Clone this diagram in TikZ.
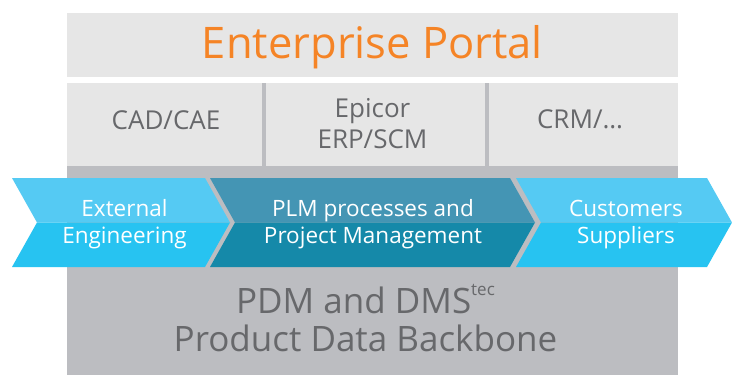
\documentclass[tikz,border=0pt]{standalone}
\usepackage{fontspec}
\setmainfont{Open Sans}
\definecolor{portalorange}{HTML}{F58426}
\definecolor{cellgray}{HTML}{E6E6E6}
\definecolor{basegray}{HTML}{BCBDC1}
\definecolor{labelgray}{HTML}{67686B}
\definecolor{skytop}{HTML}{55CAF3}
\definecolor{skybottom}{HTML}{27C3F1}
\definecolor{tealtop}{HTML}{4495B4}
\definecolor{tealbottom}{HTML}{1589A9}
\tikzset{
  cell/.style={fill=cellgray, draw=none},
  cellText/.style={text=labelgray, font=\fontsize{26}{31}\selectfont, align=center, inner sep=0pt},
  arrowText/.style={text=white, font=\fontsize{22.5}{27}\selectfont, align=center, inner sep=0pt},
  baseText/.style={text=labelgray, font=\fontsize{35}{38}\selectfont, align=center, inner sep=0pt},
}
\begin{document}
\begin{tikzpicture}[x=1pt, y=-1pt]
  \useasboundingbox (0,0) rectangle (732,375);
  \fill[white] (0,0) rectangle (732,375);

  % portal bar and application row
  \fill[cell] (67,13) rectangle (678,77);
  \fill[basegray] (67,83) rectangle (678,375);
  \fill[cell] (67,83) rectangle (261.5,166);
  \fill[cell] (266,83) rectangle (485,166);
  \fill[cell] (489,83) rectangle (678,166);

  \node[text=portalorange, font=\fontsize{43.5}{46}\selectfont, anchor=base, inner sep=0pt] (portal) at (372.5,58) {Enterprise Portal};
  \node[cellText, anchor=base] (cad) at (166,129) {CAD/CAE};
  % for two-line labels the base anchor sits on the last line
  \node[cellText, anchor=base] (erp) at (372.5,148) {Epicor\\ERP/SCM};
  \node[cellText, anchor=base] (crm) at (580,128) {CRM/\ldots};

  % process chevrons, two-tone
  \foreach \l/\r/\top/\bot in {12/205/skytop/skybottom, 210/510/tealtop/tealbottom, 516/707/skytop/skybottom}{
    \fill[\top] (\l,178) -- (\r,178) -- (\r+25,222.5) -- (\l+25,222.5) -- cycle;
    \fill[\bot] (\l+25,222.5) -- (\r+25,222.5) -- (\r,267) -- (\l,267) -- cycle;
  }
  \node[arrowText, anchor=base] (ext) at (124.5,243) {External\\Engineering};
  \node[arrowText, anchor=base] (plm) at (373,243) {PLM processes and\\Project Management};
  \node[arrowText, anchor=base] (cust) at (626,243) {Customers\\Suppliers};

  % data backbone
  \node[baseText, anchor=base] (pdm) at (365.5,351) {PDM and DMS\raisebox{0.5em}{\fontsize{17}{17}\selectfont tec}\\Product Data Backbone};
\end{tikzpicture}
\end{document}
